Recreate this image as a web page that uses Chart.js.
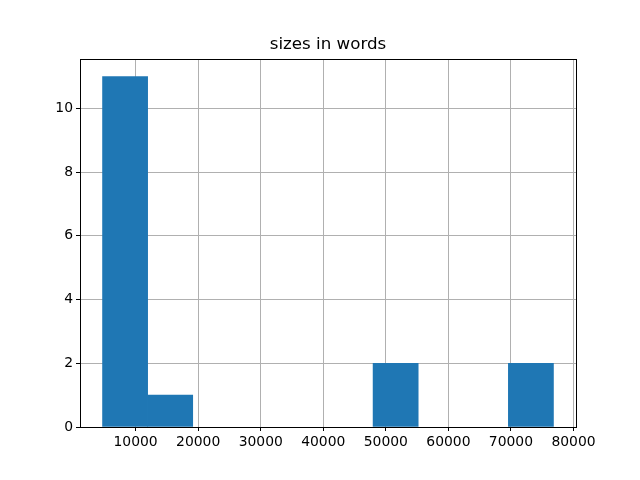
<!DOCTYPE html>
<html>
<head>
<meta charset="utf-8">
<script src="https://cdn.jsdelivr.net/npm/chart.js@4/dist/chart.umd.min.js"></script>
<style>
html,body{margin:0;padding:0;background:#fff;}
#wrap{width:640px;height:480px;}
</style>
</head>
<body>
<div id="wrap"><canvas id="c" width="640" height="480"></canvas></div>
<script>
const title = "sizes in words";
const binMin = 4714;
const binMax = 76794;
const binCounts = [11, 1, 0, 0, 0, 0, 2, 0, 0, 2];
const xTicks = [10000, 20000, 30000, 40000, 50000, 60000, 70000, 80000];
const yTicks = [0, 2, 4, 6, 8, 10];

const nBins = binCounts.length;
const binW = (binMax - binMin) / nBins;
const points = binCounts.map((c, i) => ({x: binMin + (i + 0.5) * binW, y: c === 0 ? null : c}));
const span = binMax - binMin;
const xMin = binMin - 0.05 * span, xMax = binMax + 0.05 * span;
const yMax = Math.max(...binCounts) * 1.05;

const frame = {
  id: 'frame',
  afterDraw(chart) {
    const a = chart.chartArea, ctx = chart.ctx;
    ctx.save();
    ctx.strokeStyle = '#000';
    ctx.lineWidth = 1;
    ctx.strokeRect(Math.round(a.left) + 0.5, Math.round(a.top) + 0.5, Math.round(a.right - a.left), Math.round(a.bottom - a.top));
    ctx.fillStyle = '#000';
    ctx.font = "16.7px 'DejaVu Sans', sans-serif";
    ctx.textAlign = 'center';
    ctx.textBaseline = 'alphabetic';
    ctx.fillText(title, (a.left + a.right) / 2, a.top - 10);
    ctx.restore();
  }
};

Chart.defaults.font.family = "'DejaVu Sans', sans-serif";
Chart.defaults.color = '#000';

new Chart(document.getElementById('c'), {
  type: 'bar',
  data: {
    datasets: [{
      data: points,
      backgroundColor: '#1f77b4',
      borderWidth: 0,
      barPercentage: 1.0,
      categoryPercentage: 1.0
    }]
  },
  options: {
    responsive: false,
    animation: false,
    devicePixelRatio: 1,
    layout: {padding: {left: 0, right: 64, top: 59, bottom: 0}},
    plugins: {
      legend: {display: false},
      tooltip: {enabled: false},
      title: {display: false}
    },
    scales: {
      x: {
        type: 'linear',
        min: xMin, max: xMax,
        z: 1,
        offset: false,
        grid: {color: '#b0b0b0', lineWidth: 1, tickColor: '#000', tickLength: 4, drawTicks: true, offset: false},
        border: {display: false},
        afterBuildTicks(scale) { scale.ticks = xTicks.map(v => ({value: v})); },
        afterFit(scale) { scale.height = 53; },
        ticks: {
          includeBounds: false,
          maxRotation: 0, autoSkip: false,
          padding: 3,
          font: {size: 13.9},
          callback: v => String(v)
        }
      },
      y: {
        type: 'linear',
        min: 0, max: yMax,
        z: 1,
        grid: {color: '#b0b0b0', lineWidth: 1, tickColor: '#000', tickLength: 4},
        border: {display: false},
        afterBuildTicks(scale) { scale.ticks = yTicks.map(v => ({value: v})); },
        afterFit(scale) { scale.width = 80; },
        ticks: {
          includeBounds: false,
          padding: 3,
          font: {size: 13.9},
          callback: v => String(v)
        }
      }
    }
  },
  plugins: [frame]
});
</script>
</body>
</html>
